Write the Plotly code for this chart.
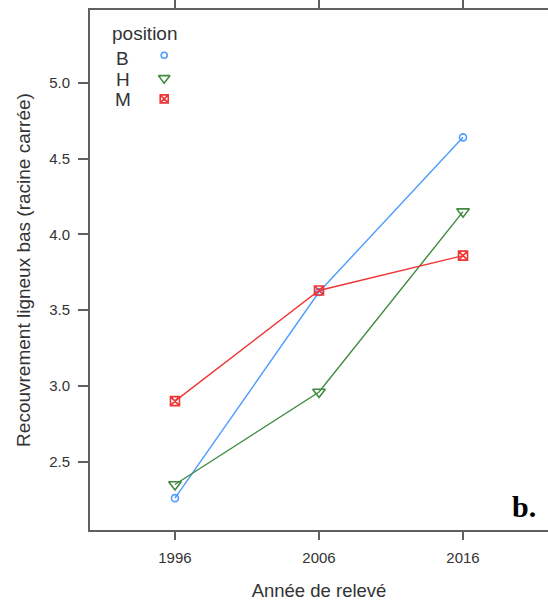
import plotly.graph_objects as go

years = [1996, 2006, 2016]
positions = ["B", "H", "M"]
values_B = [2.26, 3.62, 4.64]
values_H = [2.35, 2.96, 4.15]
values_M = [2.90, 3.63, 3.86]
y_ticks = [2.5, 3.0, 3.5, 4.0, 4.5, 5.0]

colors = {"B": "#4d9cff", "H": "#3f8a3f", "M": "#f03535"}
symbols = {"B": "circle-open", "H": "triangle-down-open", "M": "square-x-open"}
sizes = {"B": 7, "H": 11, "M": 9}
series = {"B": values_B, "H": values_H, "M": values_M}

fig = go.Figure()
for p in positions:
    fig.add_trace(go.Scatter(
        x=years, y=series[p], mode="lines+markers", name=p,
        line=dict(color=colors[p], width=1.4),
        marker=dict(symbol=symbols[p], size=sizes[p], color=colors[p],
                    line=dict(width=1.6, color=colors[p])),
        showlegend=False,
    ))

# legend keys (drawn on an overlay axis in unit coordinates)
legend_key_y = [0.913, 0.869, 0.829]
legend_text_y = [0.906, 0.867, 0.827]
for p, ly in zip(positions, legend_key_y):
    fig.add_trace(go.Scatter(
        x=[0.162], y=[ly], mode="markers", xaxis="x2", yaxis="y2",
        marker=dict(symbol=symbols[p], size=sizes[p] - 1, color=colors[p],
                    line=dict(width=1.6, color=colors[p])),
        showlegend=False, hoverinfo="skip",
    ))

axis_color = "#606060"
font_color = "#333333"
fig.update_layout(
    width=548, height=601,
    margin=dict(l=90, r=0, t=10, b=71),
    paper_bgcolor="white", plot_bgcolor="white",
    font=dict(family="Liberation Sans, Arial, sans-serif", color=font_color, size=15),
    xaxis=dict(
        range=[1990.1, 2021.9], tickvals=years, ticktext=[str(y) for y in years],
        showgrid=False, zeroline=False, showline=True, linecolor=axis_color, linewidth=2,
        mirror="ticks", ticks="outside", ticklen=8, tickcolor=axis_color, tickwidth=1.5,
        ticklabelstandoff=5,
        tickfont=dict(size=15, color=font_color),
        title=dict(text="Année de relevé", font=dict(size=18.5, color=font_color), standoff=20),
    ),
    yaxis=dict(
        range=[2.05, 5.48], tickvals=y_ticks, ticktext=[f"{v:.1f}" for v in y_ticks],
        showgrid=False, zeroline=False, showline=True, linecolor=axis_color, linewidth=2,
        mirror=False, ticks="outside", ticklen=10, tickcolor=axis_color, tickwidth=1.5,
        ticklabelstandoff=5,
        tickfont=dict(size=15, color=font_color),
        title=dict(text="Recouvrement ligneux bas (racine carrée)", font=dict(size=19, color=font_color), standoff=13),
    ),
    xaxis2=dict(range=[0, 1], overlaying="x", visible=False),
    yaxis2=dict(range=[0, 1], overlaying="y", visible=False),
)

fig.add_annotation(xref="paper", yref="paper", x=0.120, y=0.954, text="position",
                   xanchor="center", yanchor="middle",
                   showarrow=False, font=dict(size=19, color=font_color))
for p, ly in zip(positions, legend_text_y):
    fig.add_annotation(xref="paper", yref="paper", x=0.072, y=ly, text=p,
                       xanchor="center", yanchor="middle",
                       showarrow=False, font=dict(size=19, color=font_color))

fig.add_annotation(xref="paper", yref="paper", x=0.978, y=0.046, text="<b>b.</b>",
                   showarrow=False, xanchor="right", yanchor="middle",
                   font=dict(family="Liberation Serif, Times New Roman, serif", size=30, color="black"))

fig.write_html("out.html", config={"displayModeBar": False},
               post_script="document.body.style.margin='0';document.body.style.overflow='hidden';")
